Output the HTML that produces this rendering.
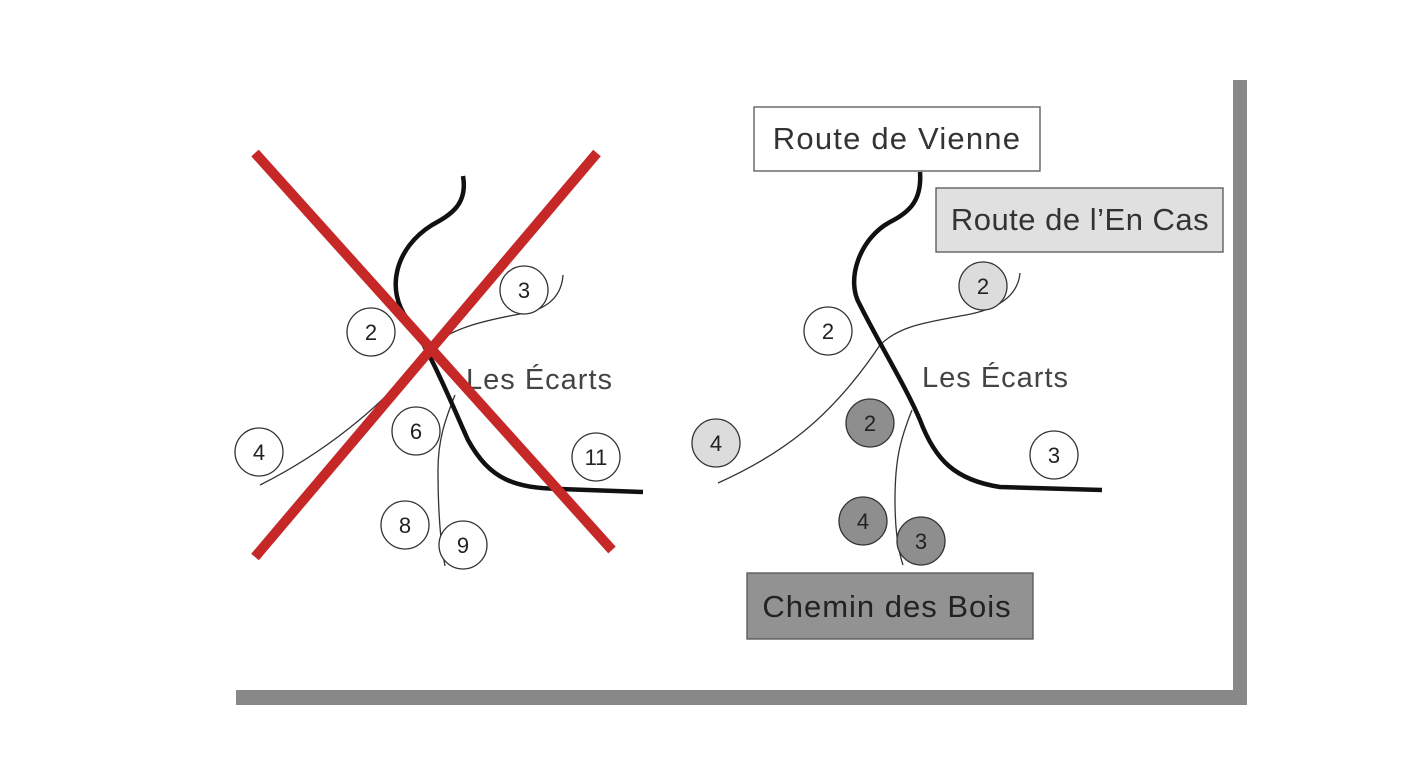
<!DOCTYPE html>
<html><head><style>
body{margin:0;background:#fff;width:1428px;height:756px;overflow:hidden}
text{font-family:"Liberation Sans","DejaVu Sans",sans-serif;fill:#222}
</style></head><body>
<svg width="1428" height="756" viewBox="0 0 1428 756">
<rect x="1233" y="80" width="14" height="625" fill="#888"/>
<rect x="236" y="690" width="1011" height="15" fill="#888"/>
<!-- left -->
<g fill="none" stroke="#333" stroke-width="1.3">
<path d="M260 485 C320 455 380 410 428 350"/>
<path d="M428 350 C450 325 500 318 530 312 C555 305 562 290 563 275"/>
<path d="M455 395 C445 420 438 440 438 470 C438 510 440 540 445 566"/>
</g>
<path d="M463 176 C468 205 450 215 432 225 C395 248 385 290 408 320 C430 350 450 400 468 440 C490 480 515 488 560 489 L643 492" fill="none" stroke="#111" stroke-width="4.5"/>
<g fill="#fff" stroke="#333" stroke-width="1.3">
<circle cx="371" cy="332" r="24"/><circle cx="524" cy="290" r="24"/><circle cx="259" cy="452" r="24"/>
<circle cx="416" cy="431" r="24"/><circle cx="596" cy="457" r="24"/><circle cx="405" cy="525" r="24"/><circle cx="463" cy="545" r="24"/>
</g>
<g font-size="22" text-anchor="middle">
<text x="371" y="340">2</text><text x="524" y="298">3</text><text x="259" y="460">4</text>
<text x="416" y="439">6</text><text x="596" y="465">11</text><text x="405" y="533">8</text><text x="463" y="553">9</text>
</g>
<text x="466" y="389" font-size="29" letter-spacing="1" style="fill:#444">Les Écarts</text>
<g stroke="#c62828" stroke-width="10">
<line x1="255" y1="153" x2="612" y2="550"/><line x1="597" y1="153" x2="255" y2="557"/>
</g>
<!-- right -->
<g fill="none" stroke="#333" stroke-width="1.3">
<path d="M718 483 C780 455 830 420 880 345 C900 325 930 322 960 316 C1000 310 1018 295 1020 273"/>
<path d="M912 410 C900 440 895 460 895 500 C895 530 898 550 903 565"/>
</g>
<path d="M920 172 C922 200 910 212 890 222 C860 238 845 280 860 305 C880 345 905 385 920 420 C935 460 955 480 1000 487 L1102 490" fill="none" stroke="#111" stroke-width="4.5"/>
<rect x="754" y="107" width="286" height="64" fill="#fff" stroke="#555" stroke-width="1.3"/>
<text x="897" y="149" font-size="31" letter-spacing="1.2" text-anchor="middle" style="fill:#333">Route de Vienne</text>
<rect x="936" y="188" width="287" height="64" fill="#e0e0e0" stroke="#555" stroke-width="1.3"/>
<text x="1080" y="230" font-size="31" letter-spacing="0.5" text-anchor="middle" style="fill:#333">Route de l’En Cas</text>
<rect x="747" y="573" width="286" height="66" fill="#929292" stroke="#555" stroke-width="1.3"/>
<text x="887" y="617" font-size="31" letter-spacing="1" text-anchor="middle" style="fill:#222">Chemin des Bois</text>
<g stroke="#333" stroke-width="1.3">
<circle cx="828" cy="331" r="24" fill="#fff"/><circle cx="983" cy="286" r="24" fill="#dcdcdc"/>
<circle cx="716" cy="443" r="24" fill="#dcdcdc"/><circle cx="870" cy="423" r="24" fill="#8e8e8e"/>
<circle cx="1054" cy="455" r="24" fill="#fff"/><circle cx="863" cy="521" r="24" fill="#8e8e8e"/>
<circle cx="921" cy="541" r="24" fill="#8e8e8e"/>
</g>
<g font-size="22" text-anchor="middle">
<text x="828" y="339">2</text><text x="983" y="294">2</text><text x="716" y="451">4</text><text x="870" y="431">2</text>
<text x="1054" y="463">3</text><text x="863" y="529">4</text><text x="921" y="549">3</text>
</g>
<text x="922" y="387" font-size="29" letter-spacing="1" style="fill:#444">Les Écarts</text>
</svg>
</body></html>
